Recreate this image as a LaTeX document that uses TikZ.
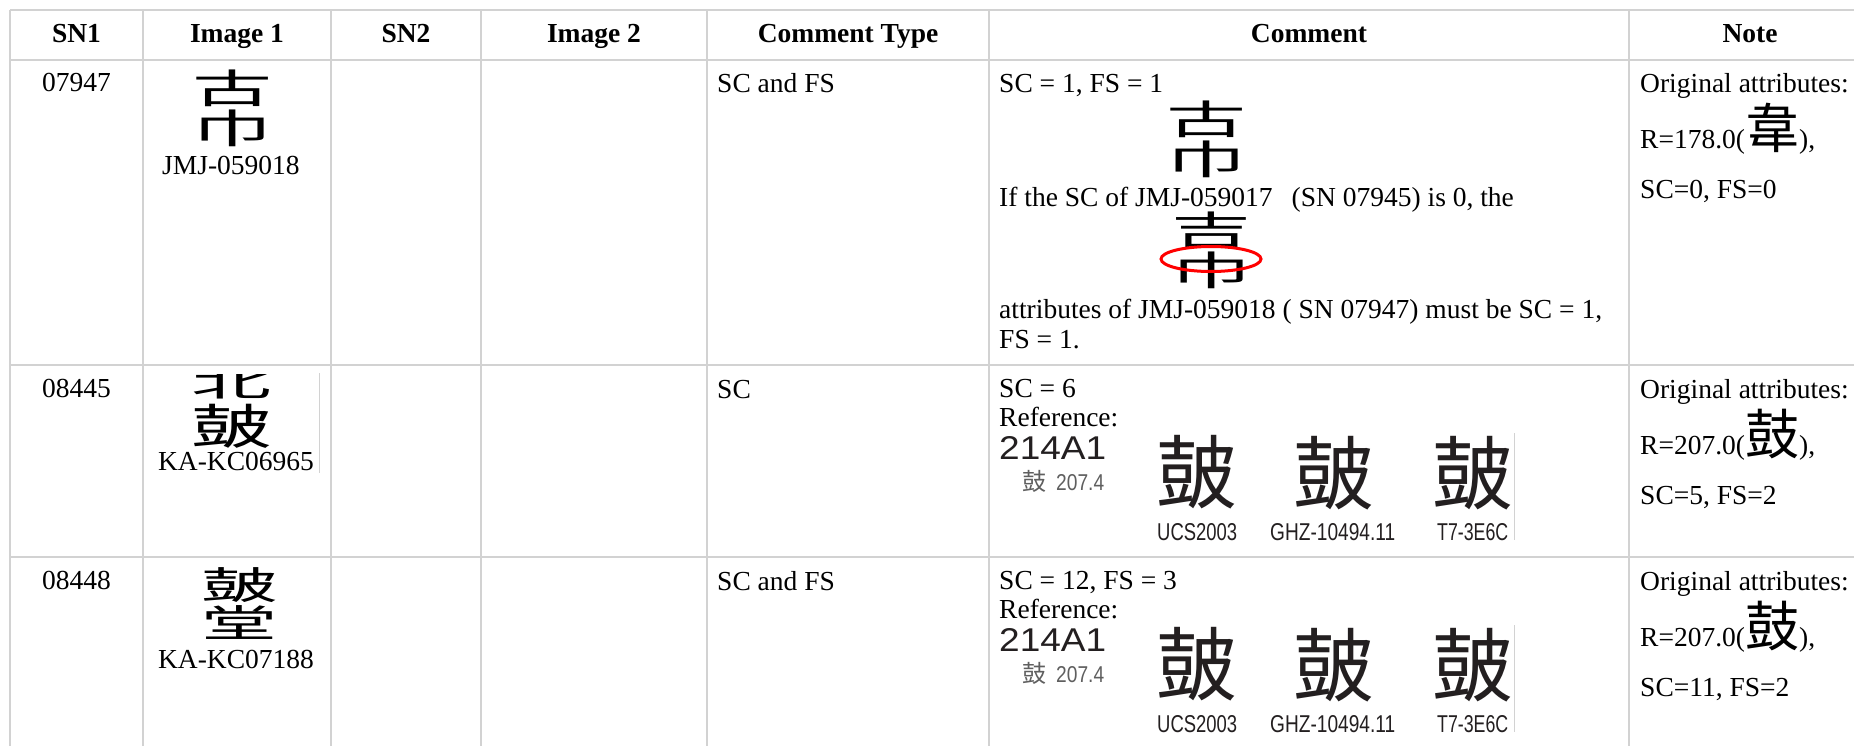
\documentclass[tikz,border=0pt]{standalone}
\usepackage{fontspec}
\usepackage{graphicx}
\setmainfont{Liberation Serif}
\newfontfamily\cjk{Noto Sans CJK SC}
\newfontfamily\chartsans{Liberation Sans}

\definecolor{rulegray}{RGB}{210,210,210}
\definecolor{inkgray}{RGB}{35,31,32}
\definecolor{softgray}{RGB}{95,95,95}

% two glyph halves stacked into one character cell
\newcommand\twostory[4]{\raisebox{#4em}{\scalebox{1}[#3]{#1}}\llap{\scalebox{1}[#4]{#2}}}

\tikzset{
	head/.style={anchor=base,inner sep=0pt,font=\bfseries\fontsize{27.5}{33}\selectfont},
	mid/.style={anchor=base,inner sep=0pt,font=\fontsize{27.5}{33}\selectfont},
	cell/.style={anchor=base west,inner sep=0pt,font=\fontsize{27.5}{33}\selectfont},
	glyph/.style={inner sep=0pt,font=\cjk\fontsize{#1}{#1}\selectfont},
	chartlbl/.style={anchor=base west,inner sep=0pt,text=inkgray},
	rule/.style={draw=rulegray,line width=1.8pt},
	hairline/.style={draw=rulegray,line width=0.9pt}
}

\begin{document}
\begin{tikzpicture}[x=1pt,y=-1pt]
	\fill[white] (0,0) rectangle (1854,746);
	\useasboundingbox (0,0) rectangle (1854,746);
	
	% grid of the table
	\foreach \x in {10,143,331,481,707,989,1629}
		\draw[rule] (\x,10) -- (\x,746);
	\foreach \y in {10,60,365,557}
		\draw[rule] (10,\y) -- (1854,\y);
	
	% header
	\foreach \x/\t/\n in {76.5/SN1/sn1,237/Image 1/imga,406/SN2/sn2,594/Image 2/imgb,848/Comment Type/ctype,1309/Comment/cmt,1750/Note/note}
		\node[head] (h-\n) at (\x,43) {\t};
	
	% SN1 and comment type
	\foreach \r/\sn/\ct/\k in {60/07947/SC and FS/a,365/08445/SC/b,557/08448/SC and FS/c} {
		\node[mid] (sn-\k) at (76.5,\r+32) {\sn};
		\node[cell] (type-\k) at (717,\r+33) {\ct};
	}
	
	% image 1
	\node[glyph=80] (img-a) at (232,108) {\twostory{古}{巾}{.5}{.5}};
	\node[mid] (code-a) at (231,175) {JMJ-059018};
	\begin{scope}
		\clip (143,374) rectangle (331,557);
		\node[glyph=80] (img-b) at (231,408) {\twostory{北}{皷}{.45}{.6}};
	\end{scope}
	\draw[hairline] (319,373) -- (319,473);
	\node[mid] (code-b) at (236,470) {KA-KC06965};
	\node[glyph=76] (img-c) at (239,604) {\twostory{皷}{堂}{.5}{.5}};
	\node[mid] (code-c) at (236,668) {KA-KC07188};
	
	% comment, first row
	\node[cell] (c1) at (999,93) {SC = 1, FS = 1};
	\node[glyph=80] (cg1) at (1206,139) {\twostory{古}{巾}{.5}{.5}};
	\node[cell] (c2) at (999,207) {If the SC of JMJ-059017\hspace{19pt}(SN 07945) is 0, the};
	\node[glyph=80] (cg2) at (1211,250) {\twostory{吉}{巾}{.5}{.5}};
	\draw[red,line width=3pt] (cg2.center) ++(0,9) ellipse [x radius=50pt,y radius=12.5pt];
	\node[cell] (c3) at (999,318) {attributes of JMJ-059018 ( SN 07947) must be SC = 1,};
	\node[cell] (c4) at (999,348) {FS = 1.};
	
	% comment, reference rows
	\foreach \r/\sc/\k in {365/{SC = 6}/b,557/{SC = 12, FS = 3}/c} {
		\node[cell] (sc-\k) at (999,\r+32) {\sc};
		\node[cell] (ref-\k) at (999,\r+61) {Reference:};
		\node[chartlbl] (uni-\k) at (999,\r+94) {\resizebox{107pt}{23pt}{\chartsans 214A1}};
		\node[chartlbl,text=softgray] (rad-\k) at (1022,\r+125) {{\cjk\fontsize{24}{24}\selectfont 鼓}\hspace{10pt}\resizebox{48pt}{16pt}{\chartsans 207.4}};
		\node[glyph=80,text=inkgray] (ucs-\k) at (1196,\r+107) {皷};
		\node[glyph=80,text=inkgray] (ghz-\k) at (1333,\r+108) {皷};
		\node[glyph=80,text=inkgray] (tw-\k) at (1472,\r+108) {皷};
		\node[chartlbl] (lucs-\k) at (1157,\r+175) {\resizebox{80pt}{17pt}{\chartsans UCS2003}};
		\node[chartlbl] (lghz-\k) at (1270,\r+175) {\resizebox{125pt}{17pt}{\chartsans GHZ-10494.11}};
		\node[chartlbl] (ltw-\k) at (1437,\r+175) {\resizebox{71pt}{17pt}{\chartsans T7-3E6C}};
		\draw[hairline] (1514,\r+68) -- (1514,\r+175);
	}
	
	% note
	\foreach \r/\rv/\rc/\att/\k in {60/178.0/韋/{SC=0, FS=0}/a,365/207.0/鼓/{SC=5, FS=2}/b,557/207.0/鼓/{SC=11, FS=2}/c} {
		\node[cell] (orig-\k) at (1640,\r+33) {Original attributes:};
		\node[cell] (radv-\k) at (1640,\r+89) {R=\rv({\cjk\fontsize{54}{54}\selectfont\rc}),};
		\node[cell] (attr-\k) at (1640,\r+139) {\att};
	}
\end{tikzpicture}
\end{document}
